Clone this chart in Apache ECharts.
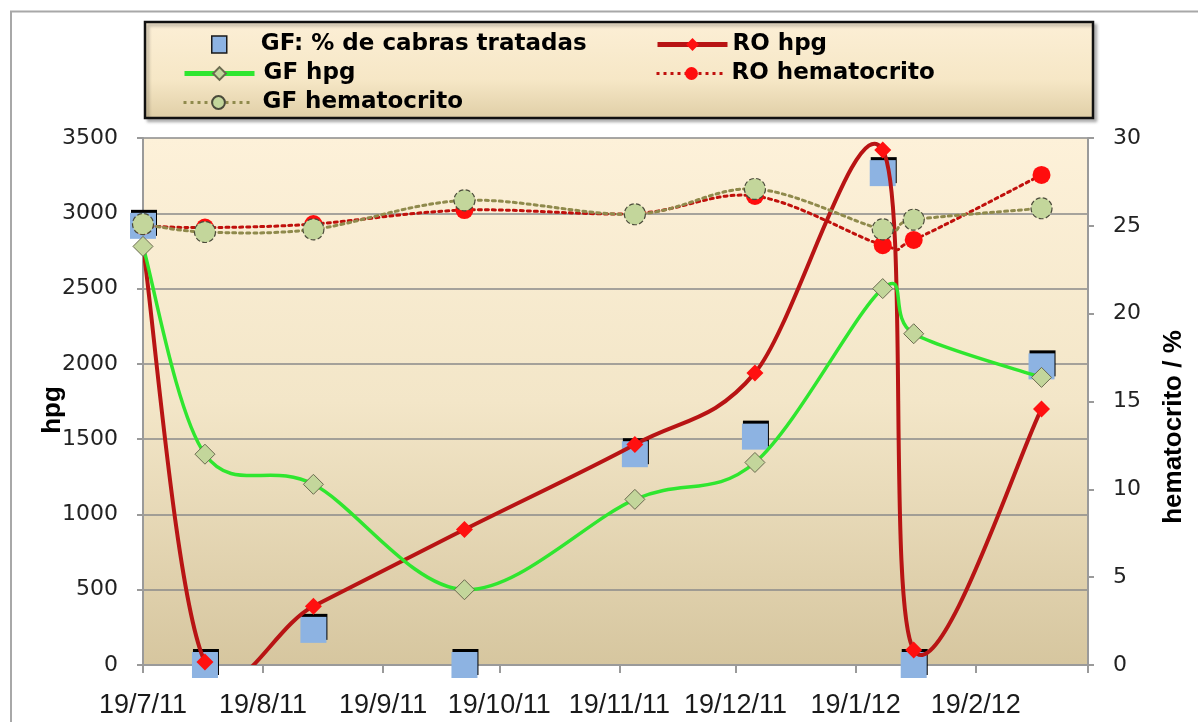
<!DOCTYPE html>
<html>
<head>
<meta charset="utf-8">
<script src="https://cdn.jsdelivr.net/npm/echarts@6/dist/echarts.min.js"></script>
<style>html,body{margin:0;padding:0;background:#fff;}#c{width:1198px;height:722px;}</style>
</head>
<body>
<div id="c"></div>
<script>
// ---- data ----
const dates = ['2011-07-19','2011-08-04','2011-09-01','2011-10-10','2011-11-23','2011-12-24','2012-01-26','2012-02-03','2012-03-07'];
const gfTreatedPct = [25, 0, 2, 0, 12, 13, 28, 0, 17];
const roHpg = [2780, 20, 390, 900, 1465, 1940, 3420, 100, 1700];
const gfHpg = [2780, 1400, 1200, 500, 1100, 1345, 2500, 2200, 1910];
const roHemato = [25.0, 24.9, 25.1, 25.9, 25.7, 26.7, 23.9, 24.2, 27.9];
const gfHemato = [25.1, 24.65, 24.8, 26.45, 25.66, 27.1, 24.8, 25.35, 26.0];
const monthTicks = ['2011-07-19','2011-08-19','2011-09-19','2011-10-19','2011-11-19','2011-12-19','2012-01-19','2012-02-19','2012-03-19'];
const monthLabels = monthTicks.slice(0, 8);
const seriesNames = ['GF: % de cabras tratadas','RO hpg','GF hpg','RO hematocrito','GF hematocrito'];

function toTime(s){ const p = s.split('-').map(Number); return new Date(p[0], p[1]-1, p[2]).getTime(); }
function pairs(vals){ return dates.map((d,i)=>[toTime(d), vals[i]]); }
function fmt(v){ const d = new Date(v); return d.getDate() + '/' + (d.getMonth()+1) + '/' + String(d.getFullYear()).slice(2); }

// Excel-like smoothed curve (Catmull-Rom style Bezier) drawn segment by segment
function curveSeries(vals, yAxisIndex, style, z){
  const n = vals.length;
  return {
    type:'custom', yAxisIndex:yAxisIndex, z:z, silent:true, data:pairs(vals),
    renderItem:function(params, api){
      const i = params.dataIndex;
      if (i >= n - 1) return null;
      const P = k => { const j = Math.max(0, Math.min(n-1, k)); return api.coord([toTime(dates[j]), vals[j]]); };
      const p0 = P(i-1), p1 = P(i), p2 = P(i+1), p3 = P(i+2);
      const c1 = [p1[0] + (p2[0]-p0[0])/6, p1[1] + (p2[1]-p0[1])/6];
      const c2 = [p2[0] - (p3[0]-p1[0])/6, p2[1] - (p3[1]-p1[1])/6];
      const cs = params.coordSys;
      return {
        type:'bezierCurve',
        shape:{x1:p1[0], y1:p1[1], x2:p2[0], y2:p2[1], cpx1:c1[0], cpy1:c1[1], cpx2:c2[0], cpy2:c2[1]},
        style:Object.assign({fill:null, lineCap:'round'}, style),
        clipPath:{type:'rect', shape:{x:cs.x, y:cs.y, width:cs.width, height:cs.height}}
      };
    }
  };
}

const chart = echarts.init(document.getElementById('c'), null, {renderer:'canvas'});
const legendText = {fontFamily:'DejaVu Sans', fontWeight:'bold', fontSize:23, color:'#000'};
function leg(name, left, top, w, h, extra, pad){
  return Object.assign({
    data:[name], left:left, top:top, itemWidth:w, itemHeight:h, padding:0,
    selectedMode:false, z:5, textStyle:Object.assign({}, legendText, {padding:[0,0,0,pad||0]})
  }, extra||{});
}
const roHpgLine = {stroke:'#b81414', lineWidth:4};
const gfHpgLine = {stroke:'#2fe62f', lineWidth:3.5};
const roHemLine = {stroke:'#c0100c', lineWidth:3, lineDash:[3,4]};
const gfHemLine = {stroke:'#8f8a4c', lineWidth:3, lineDash:[3,4]};

const option = {
  animation:false,
  backgroundColor:'#ffffff',
  grid:{left:143, right:110, top:138, bottom:57, show:true, borderWidth:0,
    backgroundColor:new echarts.graphic.LinearGradient(0,0,0,1,[
      {offset:0,color:'#fdf1d9'},{offset:0.5,color:'#f3e6c8'},{offset:1,color:'#d6c69f'}])},
  legend:[
    leg(seriesNames[0], 211, 33, 15, 17, {itemStyle:{borderColor:'#1a1a1a', borderWidth:1.5}}, 29),
    leg(seriesNames[1], 655, 33, 70, 16, {lineStyle:{color:'#b81414', width:5, type:'solid', opacity:1}}),
    leg(seriesNames[2], 182, 62, 70, 16, {lineStyle:{color:'#2fe62f', width:5, type:'solid', opacity:1}}, 4),
    leg(seriesNames[3], 655, 62, 70, 16, {lineStyle:{color:'#c0100c', width:3, type:[3,4], opacity:1}}),
    leg(seriesNames[4], 182, 91, 70, 16, {lineStyle:{color:'#8f8a4c', width:3, type:[3,4], opacity:1}}, 4)
  ],
  xAxis:{
    type:'value', min:toTime(monthTicks[0]), max:toTime(monthTicks[8]),
    axisLine:{show:true, lineStyle:{color:'#9a9a9a', width:2}},
    axisTick:{show:true, length:8, lineStyle:{color:'#9a9a9a', width:2}, customValues:monthTicks.map(toTime)},
    axisLabel:{customValues:monthLabels.map(toTime), formatter:fmt, margin:27,
      fontFamily:'Liberation Sans', fontSize:27, color:'#1a1a1a'},
    splitLine:{show:false}
  },
  yAxis:[
    {type:'value', min:0, max:3500, interval:500,
      axisLine:{show:true, lineStyle:{color:'#9a9a9a', width:2}},
      axisTick:{show:true, length:6, lineStyle:{color:'#9a9a9a', width:2}},
      axisLabel:{margin:25, fontFamily:'DejaVu Sans', fontSize:22, color:'#222', formatter:v=>String(v)},
      splitLine:{show:true, lineStyle:{color:'#8a8a8a', width:1.5}}},
    {type:'value', min:0, max:30, interval:5,
      axisLine:{show:true, lineStyle:{color:'#9a9a9a', width:2}},
      axisTick:{show:true, length:6, lineStyle:{color:'#9a9a9a', width:2}},
      axisLabel:{margin:25, fontFamily:'DejaVu Sans', fontSize:22, color:'#222', formatter:v=>String(v)},
      splitLine:{show:false}}
  ],
  graphic:[
    {type:'rect', z:-10, silent:true, shape:{x:11, y:11.5, width:1400, height:900},
      style:{fill:null, stroke:'#a8a8a8', lineWidth:2}},
    {type:'rect', z:1, silent:true, shape:{x:145, y:22, width:948, height:96},
      style:{fill:new echarts.graphic.LinearGradient(0,0,0,1,[{offset:0,color:'#fcefd6'},{offset:0.6,color:'#f6e7c6'},{offset:1,color:'#dfcea6'}]),
        stroke:'#111', lineWidth:2.5, shadowColor:'rgba(0,0,0,0.25)', shadowOffsetX:3, shadowOffsetY:3, shadowBlur:3}},
    {type:'text', x:53, y:410, rotation:Math.PI/2, silent:true,
      style:{text:'hpg', fontFamily:'Liberation Sans', fontWeight:'bold', fontSize:26, fill:'#000', align:'center', verticalAlign:'middle'}},
    {type:'text', x:1174, y:427, rotation:Math.PI/2, silent:true,
      style:{text:'hematocrito / %', fontFamily:'Liberation Sans', fontWeight:'bold', fontSize:26, fill:'#000', align:'center', verticalAlign:'middle'}}
  ],
  series:[
    {name:seriesNames[0], type:'scatter', yAxisIndex:1, data:pairs(gfTreatedPct), symbol:'rect', symbolSize:26, z:2,
      itemStyle:{color:'#8db3e2', shadowColor:'#000', shadowOffsetX:1, shadowOffsetY:-3, shadowBlur:0, opacity:1}},
    curveSeries(roHpg, 0, roHpgLine, 3),
    {name:seriesNames[1], type:'line', yAxisIndex:0, data:pairs(roHpg), symbol:'diamond', symbolSize:17, z:4,
      lineStyle:{width:0, opacity:0}, itemStyle:{color:'#ff1010', borderWidth:0}},
    curveSeries(gfHpg, 0, gfHpgLine, 5),
    {name:seriesNames[2], type:'line', yAxisIndex:0, data:pairs(gfHpg), symbol:'diamond', symbolSize:20, z:6,
      lineStyle:{width:0, opacity:0}, itemStyle:{color:'#c3d69b', borderColor:'#6b6b50', borderWidth:1}},
    curveSeries(roHemato, 1, roHemLine, 7),
    {name:seriesNames[3], type:'line', yAxisIndex:1, data:pairs(roHemato), symbol:'circle', symbolSize:18, z:8,
      lineStyle:{width:0, opacity:0}, itemStyle:{color:'#ff0d0d', borderWidth:0}},
    curveSeries(gfHemato, 1, gfHemLine, 9),
    {name:seriesNames[4], type:'line', yAxisIndex:1, data:pairs(gfHemato), symbol:'circle', symbolSize:21, z:10,
      lineStyle:{width:0, opacity:0}, itemStyle:{color:'#c3d69b', borderColor:'#4a4a3a', borderWidth:1.2, borderType:'dashed'}}
  ]
};
chart.setOption(option);
</script>
</body>
</html>
